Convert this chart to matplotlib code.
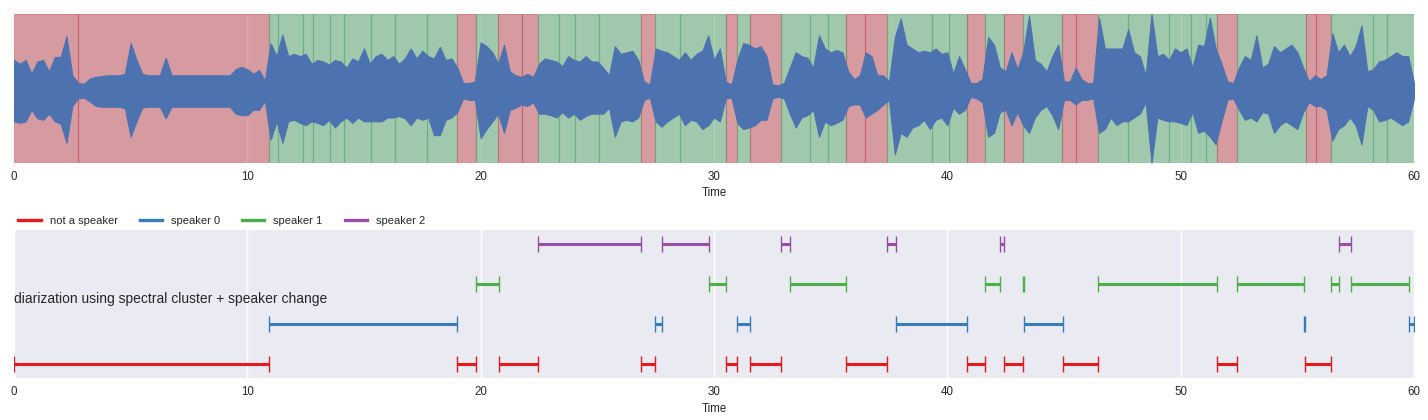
import matplotlib
matplotlib.use("Agg")
import matplotlib.pyplot as plt
import numpy as np
from matplotlib.lines import Line2D

plt.rcParams['font.family'] = ['Liberation Sans', 'DejaVu Sans']

# ---------------- data ----------------
# waveform envelope sampled every 0.25 s (percent of axis half-height)
wave_step = 0.25
wave_upper = [40, 35, 40, 22, 38, 40, 25, 44, 44, 71, 20, 10, 9, 16, 18, 19, 20, 20, 20, 22,
              62, 40, 22, 20, 20, 20, 43, 20, 20, 20, 20, 20, 20, 20, 20, 20, 20, 20, 28, 31,
              28, 22, 27, 13, 62, 45, 73, 45, 48, 45, 48, 35, 40, 38, 34, 40, 38, 30, 42, 38,
              55, 35, 45, 48, 40, 45, 35, 42, 55, 42, 52, 45, 42, 57, 40, 42, 30, 10, 10, 12,
              63, 58, 50, 35, 60, 25, 20, 18, 22, 18, 35, 42, 40, 38, 32, 45, 40, 38, 45, 38,
              38, 30, 20, 58, 48, 50, 52, 40, 12, 8, 55, 52, 50, 45, 40, 50, 40, 48, 52, 72,
              40, 55, 12, 8, 40, 62, 60, 55, 58, 45, 8, 7, 10, 30, 50, 45, 43, 30, 72, 55,
              50, 53, 50, 25, 15, 20, 50, 45, 20, 20, 12, 70, 94, 60, 55, 50, 52, 50, 55, 48,
              50, 22, 45, 28, 10, 10, 15, 70, 60, 30, 25, 50, 28, 50, 98, 40, 35, 25, 45, 60,
              12, 12, 30, 15, 10, 10, 95, 55, 55, 55, 55, 80, 50, 45, 20, 100, 45, 48, 40, 55,
              50, 55, 30, 60, 58, 95, 55, 35, 12, 10, 30, 45, 40, 72, 30, 35, 58, 50, 55, 60,
              50, 30, 12, 20, 15, 20, 75, 50, 60, 45, 58, 85, 25, 28, 38, 40, 45, 50, 45, 45,
              10]
wave_lower = [40, 42, 40, 25, 36, 38, 30, 40, 43, 68, 20, 10, 9, 14, 20, 21, 21, 21, 21, 23,
              60, 40, 22, 21, 21, 21, 36, 21, 21, 21, 21, 21, 21, 21, 21, 21, 21, 21, 30, 32,
              32, 25, 25, 13, 64, 40, 68, 40, 38, 42, 45, 40, 42, 45, 38, 48, 40, 35, 42, 35,
              40, 40, 40, 40, 35, 35, 33, 36, 45, 35, 38, 35, 58, 58, 38, 35, 28, 10, 12, 12,
              62, 50, 40, 30, 55, 25, 22, 18, 20, 15, 30, 30, 32, 35, 28, 35, 30, 38, 33, 30,
              30, 30, 22, 60, 40, 38, 40, 35, 12, 9, 40, 47, 40, 35, 30, 45, 38, 40, 50, 45,
              35, 40, 10, 9, 42, 50, 48, 45, 38, 38, 10, 8, 10, 30, 48, 35, 32, 25, 60, 40,
              45, 42, 38, 20, 18, 18, 35, 30, 25, 18, 12, 83, 55, 60, 48, 45, 38, 50, 38, 35,
              45, 22, 30, 25, 8, 10, 15, 60, 55, 28, 25, 45, 28, 45, 55, 35, 25, 20, 32, 50,
              12, 12, 18, 12, 12, 10, 55, 50, 35, 45, 40, 40, 35, 30, 15, 94, 35, 38, 40, 40,
              42, 45, 28, 55, 52, 60, 70, 40, 12, 10, 25, 38, 35, 40, 28, 30, 55, 45, 40, 45,
              50, 28, 15, 20, 20, 25, 65, 50, 45, 35, 45, 70, 20, 25, 40, 38, 35, 40, 45, 40,
              10]

# VAD frames (top panel): frame edges in seconds and speech flag per frame
vad_edges = [0, 2.76, 10.94, 11.33, 12.4, 12.83, 13.56, 14.16, 15.31, 16.34,
             17.71, 19.0, 19.82, 20.76, 21.78, 22.47, 23.37, 24.06, 25.08, 26.88,
             27.49, 28.56, 30.51, 31.0, 31.56, 32.89, 34.13, 34.9, 35.67, 36.49,
             37.43, 39.36, 40.07, 40.86, 41.63, 42.44, 43.26, 44.93, 45.53, 46.47,
             47.73, 49.51, 50.46, 51.1, 51.57, 52.43, 55.36, 55.81, 56.46, 58.26,
             58.84, 60]
vad_speech = [0, 0, 1, 1, 1, 1, 1, 1, 1, 1, 1,
              0, 1, 0, 0, 1, 1, 1, 1, 0,
              1, 1, 0, 1, 0, 1, 1, 1, 0, 0,
              1, 1, 1, 0, 1, 0, 1, 0, 0, 1,
              1, 1, 1, 1, 0, 1, 0, 0, 1, 1, 1]

# diarization segments (bottom panel)
speakers = ['not a speaker', 'speaker 0', 'speaker 1', 'speaker 2']
seg_start = [0, 10.94, 19.0, 19.82, 20.77, 22.47, 26.88, 27.49, 27.78, 29.77,
             30.53, 31.0, 31.56, 32.89, 33.27, 35.67, 37.43, 37.79, 40.86, 41.63,
             42.27, 42.44, 43.26, 43.29, 44.94, 46.47, 51.57, 52.43, 55.3, 55.33,
             56.46, 56.8, 57.31, 59.8]
seg_end = [10.94, 19.0, 19.82, 20.77, 22.47, 26.88, 27.49, 27.78, 29.77, 30.53,
           31.0, 31.56, 32.89, 33.27, 35.67, 37.43, 37.79, 40.86, 41.63, 42.27,
           42.44, 43.26, 43.29, 44.94, 46.47, 51.57, 52.43, 55.3, 55.33, 56.46,
           56.8, 57.31, 59.8, 60.0]
seg_label = ['not a speaker', 'speaker 0', 'not a speaker', 'speaker 1', 'not a speaker',
             'speaker 2', 'not a speaker', 'speaker 0', 'speaker 2', 'speaker 1',
             'not a speaker', 'speaker 0', 'not a speaker', 'speaker 2', 'speaker 1',
             'not a speaker', 'speaker 2', 'speaker 0', 'not a speaker', 'speaker 1',
             'speaker 2', 'not a speaker', 'speaker 1', 'speaker 0', 'not a speaker',
             'speaker 1', 'not a speaker', 'speaker 1', 'speaker 0', 'not a speaker',
             'speaker 1', 'speaker 2', 'speaker 1', 'speaker 0']
title_text = 'diarization using spectral cluster + speaker change'
xticks = [0, 10, 20, 30, 40, 50, 60]

# ---------------- styling ----------------
W, H = 1428, 420
fig = plt.figure(figsize=(W / 100, H / 100), dpi=100)
fig.patch.set_facecolor('white')

face = '#EAEAF2'
txt = '#262626'
spk_colors = ['#E41A1C', '#377EB8', '#4DAF4A', '#984EA3']
vad_colors = ['#C44E52', '#55A868']


def style(ax):
    ax.set_facecolor(face)
    for s in ax.spines.values():
        s.set_visible(False)
    ax.set_axisbelow(True)
    ax.grid(True, axis='x', color='white', lw=1.0)
    ax.set_xlim(0, 60)
    ax.set_xticks(xticks)
    ax.set_yticks([])
    ax.tick_params(axis='x', length=0, pad=6, labelsize=8.3, labelcolor=txt)
    ax.set_xlabel('Time', fontsize=8.3, color=txt, labelpad=3)


# top panel
ax1 = fig.add_axes([14 / W, (H - 162.7) / H, 1400 / W, 148.7 / H])
style(ax1)
for i, flag in enumerate(vad_speech):
    ax1.axvspan(vad_edges[i], vad_edges[i + 1], color=vad_colors[flag], alpha=0.5,
                lw=0.8, zorder=1)
t = np.arange(len(wave_upper)) * wave_step
up = np.array(wave_upper) / 100.0
lo = -np.array(wave_lower) / 100.0
ax1.fill_between(t, lo, up, color='#4C72B0', lw=0.8, zorder=3)
ax1.set_ylim(-0.94, 1.0)

# bottom panel
ax2 = fig.add_axes([14 / W, (H - 378) / H, 1400 / W, 148 / H])
style(ax2)
for s, e, lab in zip(seg_start, seg_end, seg_label):
    k = speakers.index(lab)
    ax2.plot([s, e], [k, k], color=spk_colors[k], lw=2.2, marker='|', ms=11,
             mew=1.0, solid_capstyle='butt', zorder=3)
ax2.set_ylim(-0.35, 3.35)
ax2.text(0, 1.62, title_text, fontsize=10, color=txt, ha='left', va='center')
handles = [Line2D([], [], color=c, lw=2.4) for c in spk_colors]
ax2.legend(handles, speakers, loc='lower left', bbox_to_anchor=(0, 1.0), ncol=4,
           frameon=False, fontsize=8, borderaxespad=0.0, labelcolor=txt)

fig.savefig('out.png', dpi=100, facecolor='white')
